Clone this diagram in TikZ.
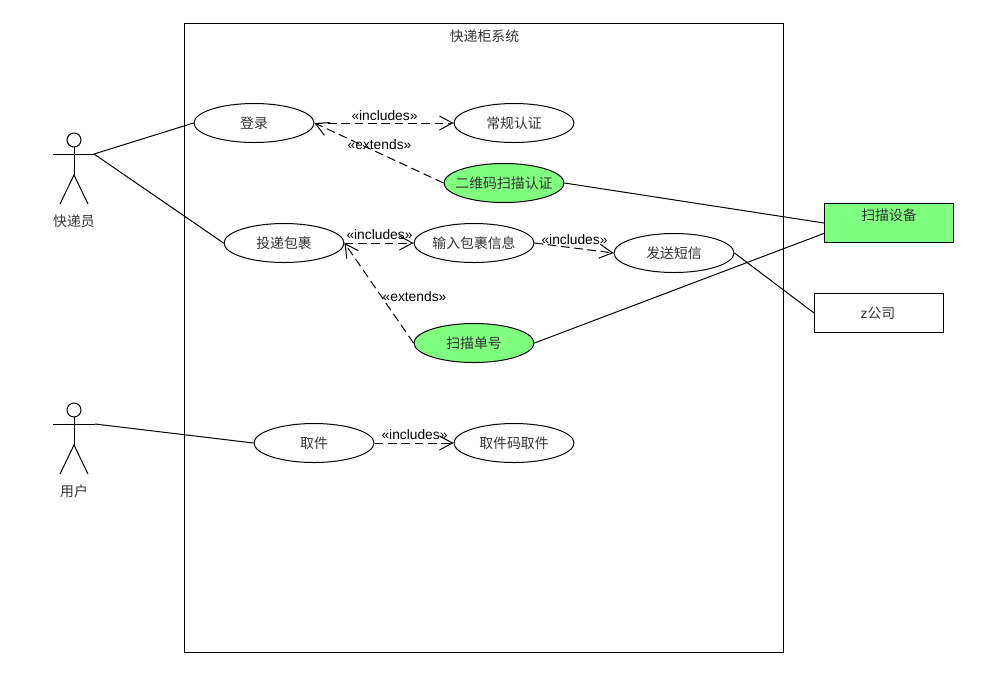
\documentclass[tikz,border=0pt]{standalone}
\usepackage{fontspec}
\setmainfont{Noto Sans CJK SC}
\newfontfamily\latinfont{Liberation Sans}
\usetikzlibrary{arrows.meta,shapes.geometric}
\definecolor{usegreen}{HTML}{80FF80}
\tikzset{
    usecase/.style={draw=black, line width=0.75pt, ellipse, minimum width=90pt, minimum height=29.25pt, inner xsep=-15pt, inner ysep=0pt, text=black!80, font=\fontsize{10.4pt}{12pt}\selectfont},
    scanned/.style={usecase, fill=usegreen},
    sysbox/.style={draw=black, line width=0.75pt, rectangle, minimum width=96.75pt, minimum height=29.25pt, inner sep=0pt},
    cjklabel/.style={inner sep=0pt, text=black!80, font=\fontsize{10.4pt}{12pt}\selectfont},
    relabel/.style={inner sep=0pt, text=black, font=\latinfont\fontsize{10.35pt}{12pt}\selectfont},
    assoc/.style={line width=0.75pt},
    depend/.style={line width=0.75pt, dash pattern=on 6.5pt off 3.5pt, -{Straight Barb[length=9.75pt,width=10.5pt,line width=0.75pt]}},
    figure/.style={line width=0.75pt},
}
\begin{document}
\begin{tikzpicture}[x=0.75pt, y=-0.75pt]
    \useasboundingbox (0,0) rectangle (989,690);

    % System boundary
    \node[sysbox, minimum width=449.25pt, minimum height=471.75pt] (system) at (483.5,337.5) {};
    \node[cjklabel] (systemtitle) at (484.5,36) {快递柜系统};

    % Courier
    \draw[figure] (74,140) circle (7);
    \draw[figure] (74,147) -- (74,175);
    \draw[figure] (53,154) -- (95,154);
    \draw[figure] (60,204) -- (74,175) -- (88,204);
    \coordinate (courier) at (94,154);
    \node[cjklabel] (couriername) at (74,221) {快递员};

    % Customer
    \draw[figure] (74,410) circle (7);
    \draw[figure] (74,417) -- (74,445);
    \draw[figure] (53,424) -- (95,424);
    \draw[figure] (60,474) -- (74,445) -- (88,474);
    \coordinate (customer) at (95,424);
    \node[cjklabel] (customername) at (74,491) {用户};

    % Use cases
    \node[usecase] (login) at (254,123) {登录};
    \node[usecase] (normalauth) at (514,123) {常规认证};
    \node[scanned] (qrauth) at (504,183) {二维码扫描认证};
    \node[usecase] (deliver) at (284,243) {投递包裹};
    \node[usecase] (inputinfo) at (474,243) {输入包裹信息};
    \node[usecase] (sendsms) at (674,253) {发送短信};
    \node[scanned] (scancode) at (474,343) {扫描单号};
    \node[usecase] (pickup) at (314,443) {取件};
    \node[usecase] (pickupcode) at (514,443) {取件码取件};

    % External systems
    \node[sysbox, fill=usegreen] (scanner) at (889,223) {};
    \node[cjklabel] (scannertext) at (889,215) {扫描设备};
    \coordinate (scannerlow) at (825,233);
    \node[sysbox] (company) at (879,313) {};
    \node[cjklabel] (companytext) at (878,313) {{\latinfont z}公司};

    % Associations
    \draw[assoc] (courier) -- (login.west);
    \draw[assoc] (courier) -- (deliver.west);
    \draw[assoc] (customer) -- (pickup.west);
    \draw[assoc] (qrauth.east) -- (scanner.west);
    \draw[assoc] (scancode.east) -- (scannerlow);
    \draw[assoc] (sendsms.east) -- (company.west);

    % Includes and extends
    \draw[depend] (login.east) -- (normalauth.west);
    \draw[depend] (qrauth.west) -- (login.east);
    \draw[depend] (deliver.east) -- (inputinfo.west);
    \draw[depend] (inputinfo.east) -- (sendsms.west);
    \draw[depend] (scancode.west) -- (deliver.east);
    \draw[depend] (pickup.east) -- (pickupcode.west);

    % Relation labels
    \node[relabel] (incone) at (384.5,116) {«includes»};
    \node[relabel] (extone) at (379.5,145) {«extends»};
    \node[relabel] (inctwo) at (379.5,235) {«includes»};
    \node[relabel] (incthree) at (574.5,240) {«includes»};
    \node[relabel] (exttwo) at (414.5,297) {«extends»};
    \node[relabel] (incfour) at (414.5,435) {«includes»};
\end{tikzpicture}
\end{document}
